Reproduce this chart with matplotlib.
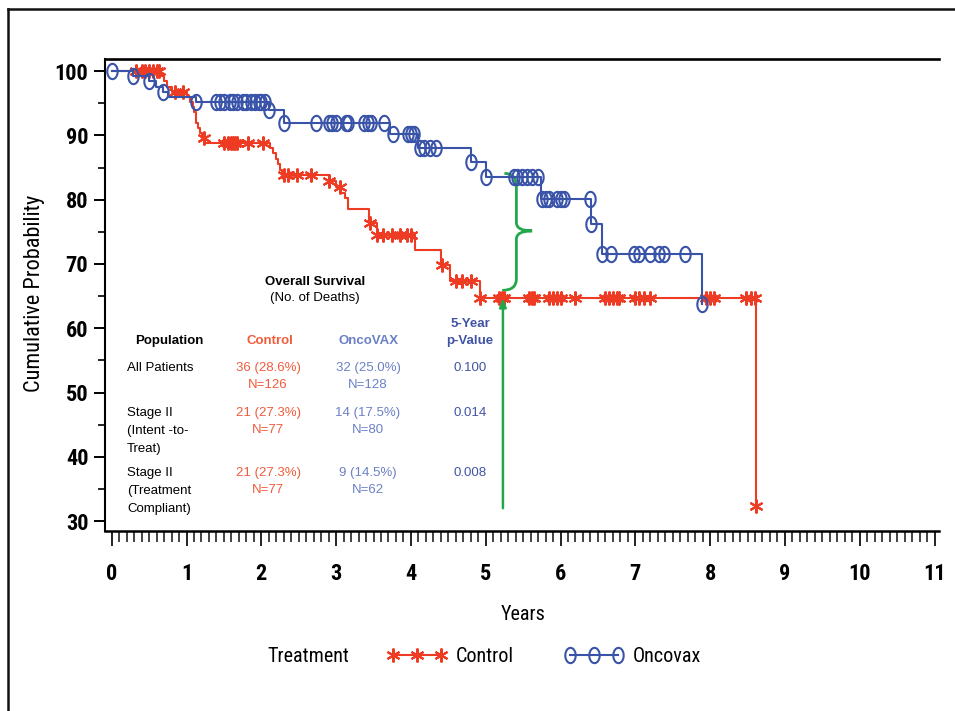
import numpy as np
import matplotlib
matplotlib.use("Agg")
import matplotlib.pyplot as plt
from matplotlib import font_manager as fm
from matplotlib.lines import Line2D
from matplotlib.path import Path
from matplotlib.patches import PathPatch

# Kaplan-Meier steps (years, cumulative probability %)
ctrl_event_t = [0.66, 0.70, 0.74, 0.80, 1.00, 1.05, 1.08, 1.10, 1.12, 1.15, 1.18, 1.21, 1.24,
                2.12, 2.16, 2.19, 2.22, 2.25, 2.28, 2.90, 3.00, 3.07, 3.12, 3.16, 3.44, 3.54,
                4.05, 4.40, 4.52, 4.92, 8.62]
ctrl_event_s = [99.2, 98.4, 97.6, 96.8, 96.0, 95.2, 94.4, 93.6, 92.0, 91.2, 90.4, 89.6, 88.8,
                88.0, 87.2, 86.4, 85.5, 84.6, 83.8, 82.9, 82.0, 81.1, 80.2, 78.6, 76.4, 74.5,
                72.2, 69.8, 67.3, 64.7, 32.3]
ctrl_cens_t = [0.32, 0.40, 0.45, 0.50, 0.55, 0.60, 0.63, 0.85, 0.95, 1.23, 1.50, 1.55, 1.60,
               1.62, 1.65, 1.68, 1.82, 2.02, 2.30, 2.35, 2.48, 2.67, 2.90, 3.05, 3.45, 3.55,
               3.62, 3.75, 3.85, 3.95, 4.00, 4.42, 4.60, 4.68, 4.80, 4.92, 5.18, 5.22, 5.25,
               5.58, 5.62, 5.65, 5.85, 5.90, 5.95, 6.00, 6.20, 6.60, 6.65, 6.70, 6.75, 6.78,
               7.00, 7.05, 7.12, 7.20, 7.95, 8.00, 8.05, 8.48, 8.55, 8.60, 8.62]

onco_event_t = [0.28, 0.50, 0.59, 0.68, 0.75, 1.12, 2.10, 2.30, 3.72, 4.10, 4.80, 5.00,
                5.74, 6.41, 6.55, 7.89]
onco_event_s = [99.2, 98.4, 97.6, 96.8, 96.0, 95.2, 93.9, 91.9, 90.3, 88.0, 85.8, 83.6,
                80.1, 76.2, 71.6, 63.7]
onco_cens_t = [0.00, 0.28, 0.50, 0.68, 1.12, 1.40, 1.45, 1.50, 1.58, 1.62, 1.68, 1.75, 1.80,
               1.86, 1.92, 1.97, 2.00, 2.05, 2.10, 2.30, 2.73, 2.90, 2.95, 3.00, 3.13, 3.16,
               3.37, 3.42, 3.47, 3.64, 3.76, 3.96, 4.00, 4.04, 4.12, 4.18, 4.25, 4.33, 4.80,
               5.00, 5.38, 5.42, 5.48, 5.55, 5.62, 5.70, 5.75, 5.80, 5.85, 5.95, 6.00, 6.05,
               6.39, 6.41, 6.55, 6.68, 6.98, 7.05, 7.19, 7.32, 7.39, 7.66, 7.89]

# 5-year comparison marked in green
five_year_t = 5.23
ctrl_5y = 64.7
onco_5y = 83.6

# summary table
table_rows = ["All Patients", "Stage II\n(Intent -to-\nTreat)", "Stage II\n(Treatment\nCompliant)"]
ctrl_deaths = ["36 (28.6%)", "21 (27.3%)", "21 (27.3%)"]
ctrl_n = ["N=126", "N=77", "N=77"]
onco_deaths = ["32 (25.0%)", "14 (17.5%)", "9 (14.5%)"]
onco_n = ["N=128", "N=80", "N=62"]
p_values = ["0.100", "0.014", "0.008"]

x_ticks = list(range(0, 12))
y_ticks = list(range(30, 101, 10))

RED = "#ee3b24"
BLUE = "#3853a8"
CTRL_TXT = "#f05c3c"
ONCO_TXT = "#6b80c6"
P_TXT = "#4254a6"
GREEN = "#22a84a"


def narrow_font(size, weight=700):
    # look for a condensed face, the reference uses a narrow font
    prefs = ["Liberation Sans Narrow", "Roboto Condensed", "DejaVu Sans Condensed"]
    cands = []
    for f in fm.fontManager.ttflist:
        narrow = ("Narrow" in f.name or "Condensed" in f.name
                  or f.stretch in ("condensed", "semi-condensed"))
        if not narrow:
            continue
        rank = prefs.index(f.name) if f.name in prefs else len(prefs)
        w = f.weight if isinstance(f.weight, int) else (700 if "bold" in str(f.weight) else 400)
        cands.append((rank, f.style != "normal", abs(w - weight), f.fname))
    if cands:
        cands.sort()
        return fm.FontProperties(fname=cands[0][3], size=size)
    return fm.FontProperties(family="Roboto", weight=weight, size=size * 0.85)


# star and tall-oval censor markers
ast = (6, 2, 0)
th = np.linspace(0, 2 * np.pi, 40)
oval = Path(np.column_stack([0.68 * np.cos(th), np.sin(th)]))


def level_at(ts, t_ev, s_ev):
    t_all = np.r_[0.0, t_ev]
    s_all = np.r_[100.0, s_ev]
    idx = np.searchsorted(t_all, ts, side="right") - 1
    return s_all[idx]


fig = plt.figure(figsize=(9.55, 7.11), dpi=100)
ax = fig.add_axes([105 / 955, 1 - 531 / 711, 834 / 955, 472 / 711])

# control curve
ax.step(np.r_[0.0, ctrl_event_t], np.r_[100.0, ctrl_event_s], where="post", color=RED, lw=1.5)
ax.plot(ctrl_cens_t, level_at(ctrl_cens_t, ctrl_event_t, ctrl_event_s), ls="none",
        marker=ast, ms=10, mew=1.5, color=RED)
# oncovax curve
ax.step(np.r_[0.0, onco_event_t], np.r_[100.0, onco_event_s], where="post", color=BLUE, lw=1.5)
ax.plot(onco_cens_t, level_at(onco_cens_t, onco_event_t, onco_event_s), ls="none",
        marker=oval, ms=11, mew=1.5, mfc="none", mec=BLUE)

# green arrow and brace at 5 years
ax.annotate("", xy=(five_year_t, ctrl_5y), xytext=(five_year_t, 32.0),
            arrowprops=dict(arrowstyle="-|>,head_length=0.5,head_width=0.2", color=GREEN,
                            lw=1.8, shrinkA=0, shrinkB=0))
bx = five_year_t + 0.18
tip = five_year_t + 0.39
mid = (ctrl_5y + onco_5y) / 2 + 1.0
verts = [(five_year_t - 0.01, ctrl_5y + 1.2), (bx, ctrl_5y + 1.2), (bx, ctrl_5y + 3.0),
         (bx, mid - 1.3), (bx, mid), (tip, mid),
         (bx, mid), (bx, mid + 1.3),
         (bx, onco_5y - 1.6), (bx, onco_5y + 0.5), (five_year_t + 0.02, onco_5y + 0.5)]
codes = [Path.MOVETO, Path.CURVE3, Path.CURVE3, Path.LINETO, Path.CURVE3, Path.CURVE3,
         Path.CURVE3, Path.CURVE3, Path.LINETO, Path.CURVE3, Path.CURVE3]
ax.add_patch(PathPatch(Path(verts, codes), fc="none", ec=GREEN, lw=2.0))

ax.set_xlim(-0.09, 11.06)
ax.set_ylim(28.45, 101.9)
ax.set_xticks(x_ticks)
ax.set_xticks(np.arange(0, 11.01, 0.1), minor=True)
ax.set_yticks(y_ticks)
ax.set_yticks(np.arange(30, 101, 5), minor=True)

ax.set_xticklabels([str(v) for v in x_ticks], fontproperties=narrow_font(16))
ax.set_yticklabels([str(v) for v in y_ticks], fontproperties=narrow_font(16))
ax.tick_params(axis="x", which="major", length=11, width=1.4, pad=12, color="#222222")
ax.tick_params(axis="x", which="minor", length=8, width=1.2, color="#222222")
ax.tick_params(axis="y", which="major", length=8, width=1.4, pad=4)
ax.tick_params(axis="y", which="minor", length=5, width=1.2)

ax.spines["right"].set_visible(False)
ax.spines["top"].set_linewidth(1.9)
ax.spines["left"].set_linewidth(1.5)
ax.spines["bottom"].set_linewidth(1.8)

fig.text(35 / 955, 1 - 293 / 711, "Cumulative Probability", rotation=90, ha="center",
         va="center", fontproperties=narrow_font(16, 400))
fig.text(523 / 955, 1 - 615 / 711, "Years", ha="center", va="center",
         fontproperties=narrow_font(14.5, 400))

# legend row
fig.text(308 / 955, 1 - 657 / 711, "Treatment", ha="center", va="center",
         fontproperties=narrow_font(14.5, 400))
handles = [Line2D([], [], color=RED, lw=1.5, marker=ast, ms=10, mew=1.5),
           Line2D([], [], color=BLUE, lw=1.5, marker=oval, ms=11, mew=1.5, mfc="none", mec=BLUE)]
fig.legend(handles, ["Control", "Oncovax"], loc="center left",
           bbox_to_anchor=(387 / 955, 1 - 657 / 711), borderpad=0, borderaxespad=0,
           ncol=2, frameon=False, numpoints=3, handlelength=3.0, handletextpad=0.4,
           columnspacing=2.5, prop=narrow_font(14.5, 400))

# summary table inside the plot
tfam = "Liberation Sans"
fig.text(315 / 955, 1 - 282 / 711, "Overall Survival", ha="center", va="center",
         family=tfam, weight="bold", size=9.5)
fig.text(315 / 955, 1 - 298 / 711, "(No. of Deaths)", ha="center", va="center",
         family=tfam, size=9.5)
fig.text(135 / 955, 1 - 341 / 711, "Population", ha="left", va="center",
         family=tfam, weight="bold", size=9.5)
fig.text(270 / 955, 1 - 341 / 711, "Control", ha="center", va="center",
         family=tfam, weight="bold", size=9.5, color=CTRL_TXT)
fig.text(369 / 955, 1 - 341 / 711, "OncoVAX", ha="center", va="center",
         family=tfam, weight="bold", size=9.5, color=ONCO_TXT)
fig.text(470 / 955, 1 - 324 / 711, "5-Year", ha="center", va="center",
         family=tfam, weight="bold", size=9.5, color=P_TXT)
fig.text(470 / 955, 1 - 341 / 711, "p-Value", ha="center", va="center",
         family=tfam, weight="bold", size=9.5, color=P_TXT)

row_py = [368, 413, 473]
step = 18
for i, lab in enumerate(table_rows):
    y0 = row_py[i]
    for k, line in enumerate(lab.split("\n")):
        fig.text(127 / 955, 1 - (y0 + k * step) / 711, line, ha="left", va="center",
                 family=tfam, size=9.5)
    fig.text(268 / 955, 1 - y0 / 711, ctrl_deaths[i], ha="center", va="center",
             family=tfam, size=9.5, color=CTRL_TXT)
    fig.text(268 / 955, 1 - (y0 + 17) / 711, ctrl_n[i], ha="center", va="center",
             family=tfam, size=9.5, color=CTRL_TXT)
    fig.text(368 / 955, 1 - y0 / 711, onco_deaths[i], ha="center", va="center",
             family=tfam, size=9.5, color=ONCO_TXT)
    fig.text(368 / 955, 1 - (y0 + 17) / 711, onco_n[i], ha="center", va="center",
             family=tfam, size=9.5, color=ONCO_TXT)
    fig.text(470 / 955, 1 - y0 / 711, p_values[i], ha="center", va="center",
             family=tfam, size=9.5, color=P_TXT)

# outer frame (top and left edges visible in the reference)
fig.add_artist(Line2D([8 / 955, 1.0], [1 - 9 / 711, 1 - 9 / 711], color="#111111", lw=1.8))
fig.add_artist(Line2D([8 / 955, 8 / 955], [0.0, 1 - 9 / 711], color="#111111", lw=1.8))

fig.savefig("out.png", dpi=100)
